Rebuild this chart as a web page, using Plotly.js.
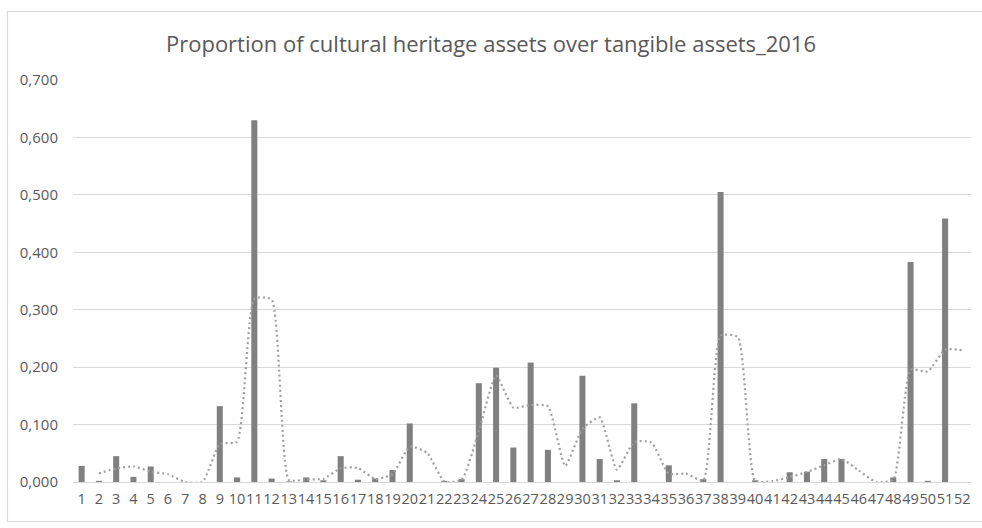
<!DOCTYPE html>
<html>
<head>
<meta charset="utf-8">
<script src="https://cdn.plot.ly/plotly-3.0.1.min.js"></script>
<style>html,body{margin:0;padding:0;background:#fff;}#chart{width:982px;height:528px;}</style>
</head>
<body>
<div id="chart"></div>
<script>
const categories = Array.from({length: 52}, (_, i) => String(i + 1));
const proportions = [
  0.028, 0.002, 0.045, 0.009, 0.027, 0.000, 0.000, 0.000, 0.132, 0.008,
  0.630, 0.006, 0.001, 0.008, 0.003, 0.045, 0.004, 0.006, 0.021, 0.102,
  0.000, 0.002, 0.005, 0.172, 0.199, 0.060, 0.208, 0.056, 0.000, 0.185,
  0.040, 0.003, 0.137, 0.000, 0.029, 0.000, 0.005, 0.505, 0.000, 0.003,
  0.000, 0.017, 0.018, 0.040, 0.040, 0.000, 0.000, 0.008, 0.383, 0.002,
  0.459, 0.000
];
const movingMeanCategories = categories.slice(1);
const movingMean = [
  0.0150, 0.0235, 0.0270, 0.0180, 0.0135, 0.0000, 0.0000, 0.0660, 0.0700,
  0.3190, 0.3180, 0.0035, 0.0045, 0.0055, 0.0240, 0.0245, 0.0050, 0.0135, 0.0615,
  0.0510, 0.0010, 0.0035, 0.0885, 0.1855, 0.1295, 0.1340, 0.1320, 0.0280, 0.0925,
  0.1125, 0.0215, 0.0700, 0.0685, 0.0145, 0.0145, 0.0025, 0.2550, 0.2525, 0.0015,
  0.0015, 0.0085, 0.0175, 0.0290, 0.0400, 0.0200, 0.0000, 0.0040, 0.1955, 0.1925,
  0.2305, 0.2295
];
const yTicks = [0, 0.1, 0.2, 0.3, 0.4, 0.5, 0.6, 0.7];
const titleText = 'Proportion of cultural heritage assets over tangible assets_2016';

const W = 982, H = 528;
const m = {l: 73, r: 11, t: 80, b: 46};
const pw = W - m.l - m.r, ph = H - m.t - m.b;
const px = x => (x - m.l) / pw;
const py = y => (H - m.b - y) / ph;

const traces = [
  {
    type: 'bar', x: categories, y: proportions,
    marker: {color: '#808080'}, hoverinfo: 'x+y', showlegend: false
  },
  {
    type: 'scatter', mode: 'lines', x: movingMeanCategories, y: movingMean,
    line: {color: '#a0a0a0', width: 2.2, dash: '2px,3px', shape: 'spline', smoothing: 0.5},
    showlegend: false
  }
];

const layout = {
  width: W, height: H,
  margin: m,
  paper_bgcolor: '#ffffff', plot_bgcolor: '#ffffff',
  separators: ',.',
  font: {family: 'Open Sans, sans-serif', color: '#595959', size: 15},
  title: {text: titleText, font: {family: 'Open Sans, sans-serif', size: 22, color: '#595959'},
          x: 0.5, xanchor: 'center', y: 1 - 44 / H, yanchor: 'middle'},
  bargap: 0.65,
  xaxis: {
    type: 'category', categoryorder: 'array', categoryarray: categories,
    range: [-0.5, 51.5], showgrid: false, zeroline: false,
    tickmode: 'array', tickvals: categories, ticktext: categories,
    showline: false, ticks: '', tickangle: 0,
    tickfont: {size: 14.5, color: '#595959'}, ticklabelstandoff: 6
  },
  yaxis: {
    range: [0, 0.7], tickmode: 'array', tickvals: yTicks, tickformat: '.3f',
    showgrid: true, gridcolor: '#d9d9d9', gridwidth: 1,
    zeroline: true, zerolinecolor: '#d9d9d9', zerolinewidth: 1,
    showline: false, ticks: '', tickfont: {size: 15, color: '#595959'},
    ticklabelstandoff: 14
  },
  shapes: [
    {type: 'rect', xref: 'paper', yref: 'paper',
     x0: px(7.5), x1: px(995), y0: py(521.5), y1: py(11.5),
     line: {color: '#d9d9d9', width: 1.2}, fillcolor: 'rgba(0,0,0,0)', layer: 'below'}
  ]
};

Plotly.newPlot('chart', traces, layout, {displayModeBar: false, staticPlot: true});
</script>
</body>
</html>
